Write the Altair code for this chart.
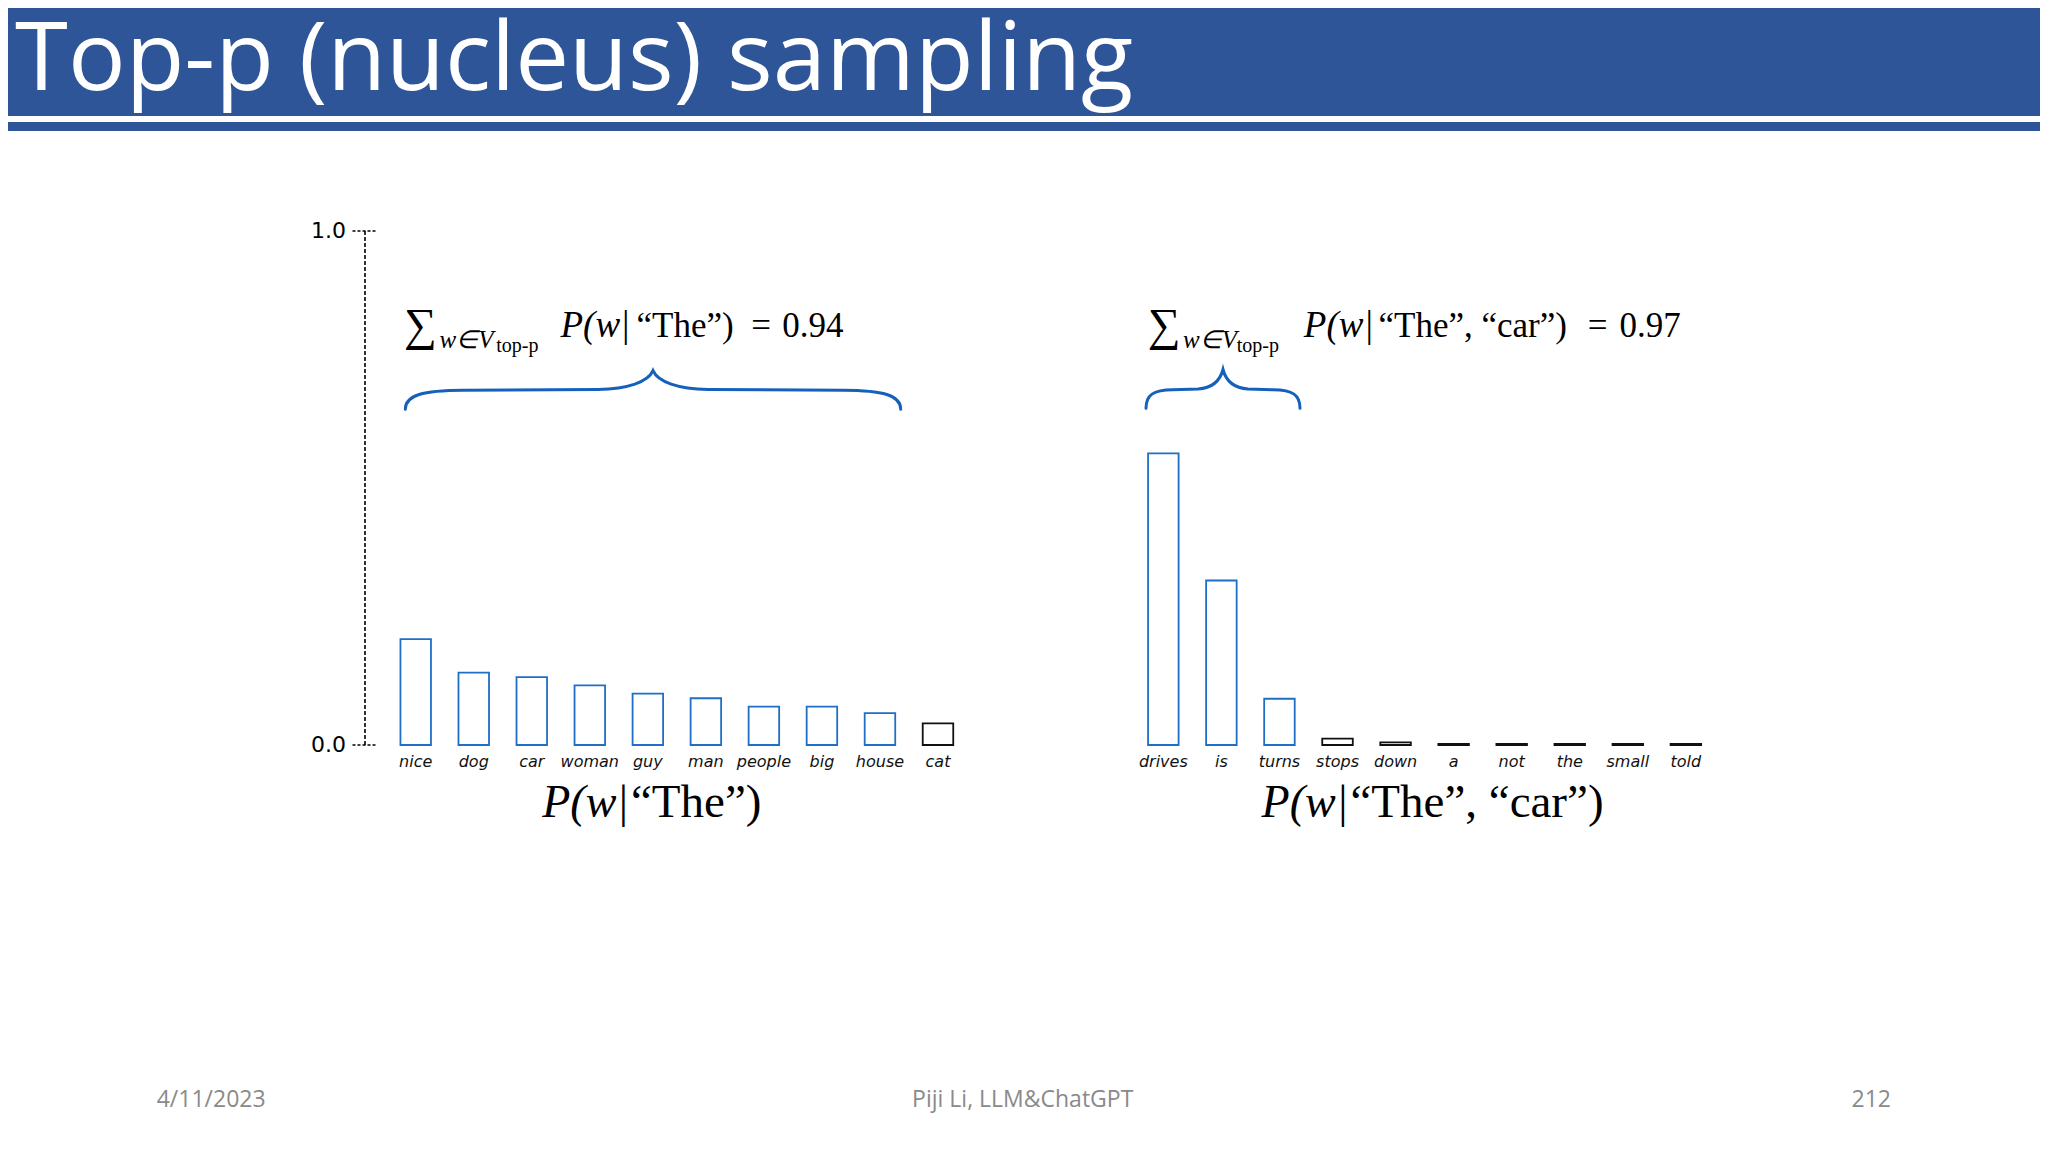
import altair as alt
import pandas as pd

# ---------------- data ----------------
words_the = ["nice", "dog", "car", "woman", "guy", "man", "people", "big", "house", "cat"]
probs_the = [0.206, 0.141, 0.132, 0.116, 0.100, 0.091, 0.0745, 0.0745, 0.062, 0.042]
nucleus_size_the = 9

words_car = ["drives", "is", "turns", "stops", "down", "a", "not", "the", "small", "told"]
probs_car = [0.5675, 0.320, 0.090, 0.0125, 0.005, 0.002, 0.002, 0.002, 0.002, 0.002]
nucleus_size_car = 3

y_ticks = [0.0, 1.0]

title_text = "Top-p (nucleus) sampling"
footer_date = "4/11/2023"
footer_author = "Piji Li, LLM&ChatGPT"
footer_page = "212"
sum_the = "0.94"
sum_car = "0.97"

# ---------------- styling ----------------
W, H = 2032, 1136
HEADER_BLUE = "#2e5597"
BAR_BLUE = "#1f6fc5"
BRACE_BLUE = "#1560bb"
SERIF = "Liberation Serif"
SANS = "DejaVu Sans"
SLIDE = "Open Sans"
FOOT = "#8a8a8a"

one = pd.DataFrame({"k": [0]})

yscale = alt.Scale(domain=[0, 1], range=[737, 223], nice=False, zero=False)


def bar_df(words, probs, n_in):
    return pd.DataFrame({
        "word": words,
        "p": probs,
        "set": ["in" if i < n_in else "out" for i in range(len(words))],
    })


def panel(df, xrange):
    xs = alt.Scale(domain=list(df["word"]), range=xrange,
                   paddingInner=0.474, paddingOuter=0.237)
    base = alt.Chart(df)
    bars = base.mark_bar(fillOpacity=0, strokeWidth=1.8).encode(
        x=alt.X("word:N", scale=xs, axis=None),
        y=alt.Y("p:Q", scale=yscale, axis=None),
        y2=alt.Y2(datum=0),
        stroke=alt.Stroke("set:N", scale=alt.Scale(domain=["in", "out"], range=[BAR_BLUE, "#111111"]),
                          legend=None),
    )
    labels = base.mark_text(font=SANS, fontStyle="italic", fontSize=16, color="#111111",
                            baseline="alphabetic", dy=21.5).encode(
        x=alt.X("word:N", scale=xs, axis=None),
        y=alt.Y(datum=0, scale=yscale),
        text="word:N",
    )
    return alt.layer(bars, labels)


def txt(text, x, y, size, font, style="normal", align="left", color="black", baseline="alphabetic"):
    return alt.Chart(one).mark_text(text=text, align=align, baseline=baseline, fontSize=size,
                                    font=font, fontStyle=style, color=color).encode(
        x=alt.value(x), y=alt.value(y))


def rect(x, x2, y, y2, color):
    return alt.Chart(one).mark_rect(color=color).encode(
        x=alt.value(x), x2=alt.value(x2), y=alt.value(y), y2=alt.value(y2))


def brace(path, size, cx, cy):
    return alt.Chart(one).mark_point(shape=path, size=size, filled=False, strokeWidth=3,
                                     color=BRACE_BLUE, opacity=1, strokeCap="round").encode(
        x=alt.value(cx), y=alt.value(cy))


def norm_path(pts_cmds, half):
    out = []
    for tok in pts_cmds.split():
        try:
            out.append(f"{float(tok) / half:.4f}")
        except ValueError:
            out.append(tok)
    return " ".join(out)


left_path = norm_path(
    "M -247.7 19.3 C -247.7 5 -230 0.5 -190 0.3 L -55 -0.5 C -25 -1 -5 -8 0 -19.3 "
    "C 5 -8 25 -1 55 -0.5 L 190 0.3 C 230 0.5 247.7 5 247.7 19.3", 247.7)
right_path = norm_path(
    "M -77 19.3 C -77 6 -70 1 -50 0.8 L -25 0 C -10 -1 -3 -8 0 -19.5 "
    "C 3 -8 10 -1 25 0 L 50 0.8 C 70 1 77 6 77 19.3", 77)

# ---------------- header ----------------
header = [
    rect(0, W, 0, 108, HEADER_BLUE),
    rect(0, W, 114, 123, HEADER_BLUE),
    txt(title_text, 7, 82, 96, SLIDE, color="white"),
]

# ---------------- y axis (dotted) ----------------
tick_df = pd.DataFrame({"v": y_ticks, "lab": [f"{t:.1f}" for t in y_ticks]})
axis_line = alt.Chart(one).mark_rule(strokeDash=[4, 2], strokeWidth=1.6, color="black").encode(
    x=alt.value(357), y=alt.Y(datum=0, scale=yscale), y2=alt.Y2(datum=1))
axis_ticks = alt.Chart(tick_df).mark_rule(strokeDash=[3, 2], strokeWidth=1.6, color="black").encode(
    x=alt.value(344.5), x2=alt.value(367.7), y=alt.Y("v:Q", scale=yscale))
axis_labels = alt.Chart(tick_df).mark_text(font=SANS, fontSize=22, align="right", baseline="middle",
                                           color="black").encode(
    x=alt.value(338), y=alt.Y("v:Q", scale=yscale), text="lab:N")

# ---------------- formulas ----------------
FY = 328.7
IT, UP = 37, 35
formula_left = [
    txt("\u2211", 396, 332, 46, SERIF),
    txt("w\u2208V", 431.6, 340.3, 25, SERIF, style="italic"),
    txt("top-p", 488.3, 343.7, 20, SERIF),
    txt("P(w|", 622.3, FY, IT, SERIF, style="italic", align="right"),
    txt("\u201cThe\u201d)", 628.5, FY, UP, SERIF),
    txt("=", 753, FY, UP, SERIF, align="center"),
    txt(sum_the, 835.6, FY, UP, SERIF, align="right"),
]
formula_right = [
    txt("\u2211", 1139.7, 332, 46, SERIF),
    txt("w\u2208V", 1175, 340.3, 25, SERIF, style="italic"),
    txt("top-p", 1228.7, 343.7, 20, SERIF),
    txt("P(w|", 1365.6, FY, IT, SERIF, style="italic", align="right"),
    txt("\u201cThe\u201d, \u201ccar\u201d)", 1370.5, FY, UP, SERIF),
    txt("=", 1589.5, FY, UP, SERIF, align="center"),
    txt(sum_car, 1672.7, FY, UP, SERIF, align="right"),
]

# ---------------- x titles ----------------
TY = 808.7
xtitles = [
    txt("P(w|", 621, TY, 46, SERIF, style="italic", align="right"),
    txt("\u201cThe\u201d)", 623, TY, 47, SERIF),
    txt("P(w|", 1340.3, TY, 46, SERIF, style="italic", align="right"),
    txt("\u201cThe\u201d, \u201ccar\u201d)", 1342.5, TY, 47, SERIF),
]

braces = [
    brace(left_path, 495.4 ** 2, 645, 382),
    brace(right_path, 154 ** 2, 1215, 381),
]

footer = [
    txt(footer_date, 148.7, 1091.5, 23, SLIDE, color=FOOT, baseline="middle"),
    txt(footer_author, 1014.7, 1091.5, 23, SLIDE, color=FOOT, align="center", baseline="middle"),
    txt(footer_page, 1883, 1091.5, 23, SLIDE, color=FOOT, align="right", baseline="middle"),
]

left_panel = panel(bar_df(words_the, probs_the, nucleus_size_the), [378.7, 959.0])
right_panel = panel(bar_df(words_car, probs_car, nucleus_size_car), [1126.3, 1706.9])

chart = alt.layer(
    *header, axis_line, axis_ticks, axis_labels,
    left_panel, right_panel,
    *formula_left, *formula_right, *xtitles, *braces, *footer,
).resolve_scale(x="independent").properties(
    width=W, height=H, padding=0,
    autosize=alt.AutoSizeParams(type="none"),
    background="white",
).configure_view(stroke=None)

chart.save("out.html", embed_options={"renderer": "svg", "actions": False})
